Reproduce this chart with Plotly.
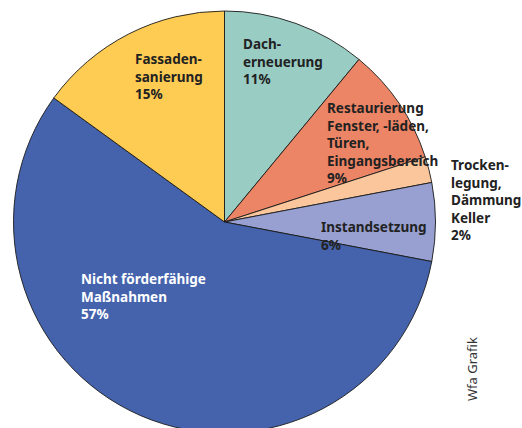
import plotly.graph_objects as go

# Förderanteile nach Maßnahmenart (in Prozent), im Uhrzeigersinn ab 12 Uhr
categories = [
    "Dacherneuerung",
    "Restaurierung Fenster, -läden, Türen, Eingangsbereich",
    "Trockenlegung, Dämmung Keller",
    "Instandsetzung",
    "Nicht förderfähige Maßnahmen",
    "Fassadensanierung",
]
values = [11, 9, 2, 6, 57, 15]
label_lines = [
    ["Dach-", "erneuerung"],
    ["Restaurierung", "Fenster, -läden,", "Türen,", "Eingangsbereich"],
    ["Trocken-", "legung,", "Dämmung", "Keller"],
    ["Instandsetzung"],
    ["Nicht förderfähige", "Maßnahmen"],
    ["Fassaden-", "sanierung"],
]
colors = ["#99cdc4", "#ec8565", "#fbc69b", "#97a0d0", "#4563ad", "#fecb53"]

W, H = 522, 445

fig = go.Figure(
    go.Pie(
        labels=categories,
        values=values,
        sort=False,
        direction="clockwise",
        rotation=0,
        marker=dict(colors=colors, line=dict(color="#1a1a1a", width=0.9)),
        textinfo="none",
        hoverinfo="label+percent",
        showlegend=False,
        domain=dict(x=[13 / W, 436 / W], y=[(H - 433) / H, (H - 11) / H]),
    )
)

# Beschriftung: linke obere Ecke jedes Textblocks in Pixeln
label_pos = [(241, 33), (325, 97), (449, 154), (319, 216), (79, 268), (133, 48)]
label_color = ["#222222", "#222222", "#222222", "#222222", "#ffffff", "#222222"]

for lines, v, (px, py), col in zip(label_lines, values, label_pos, label_color):
    fig.add_annotation(
        text="<br>".join(lines + [f"{v}%"]),
        xref="paper", yref="paper",
        x=px / W, y=1 - py / H,
        xanchor="left", yanchor="top",
        align="left", showarrow=False,
        font=dict(family="Noto Sans", size=13.5, color=col, weight="bold"),
    )

fig.add_annotation(
    text="Wfa Grafik",
    xref="paper", yref="paper",
    x=472 / W, y=1 - 369 / H,
    xanchor="center", yanchor="middle",
    textangle=-90, showarrow=False,
    font=dict(family="Noto Sans", size=13, color="#333333"),
)

fig.update_layout(
    width=W, height=H,
    margin=dict(l=0, r=0, t=0, b=0),
    paper_bgcolor="white",
    plot_bgcolor="white",
)

fig.write_html("out.html", config={"displayModeBar": False})
